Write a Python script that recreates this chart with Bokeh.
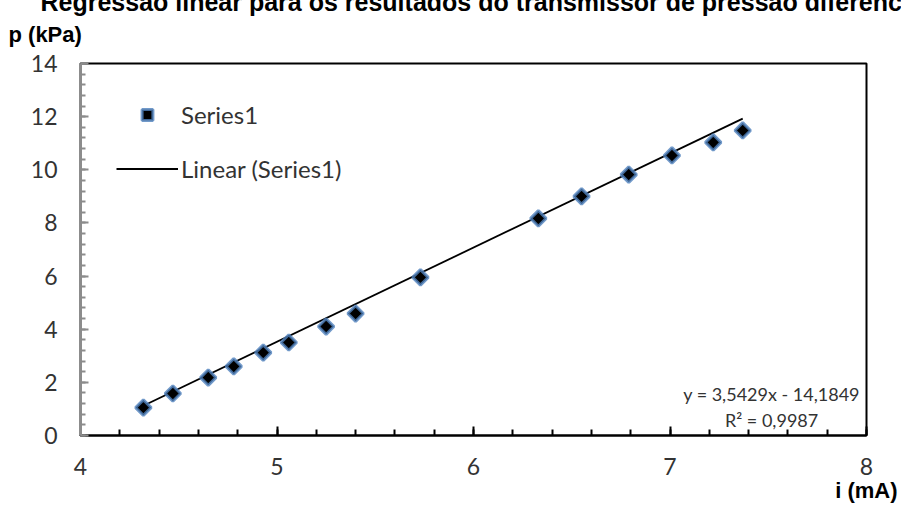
import numpy as np
from bokeh.plotting import figure
from bokeh.models import (Range1d, SingleIntervalTicker, Label, Legend, LegendItem,
                          ColumnDataSource, Title)
from bokeh.embed import file_html
from bokeh.resources import INLINE

# ---- data ----
current_ma = [4.32, 4.47, 4.65, 4.78, 4.93, 5.06, 5.25, 5.40, 5.73,
              6.33, 6.55, 6.79, 7.01, 7.22, 7.37]
pressure_kpa = [1.05, 1.58, 2.18, 2.60, 3.12, 3.50, 4.10, 4.59, 5.95,
                8.17, 9.00, 9.82, 10.54, 11.03, 11.48]
slope = 3.5429
intercept = -14.1849
r_squared = 0.9987
x_ticks = [4, 5, 6, 7, 8]
y_ticks = [0, 2, 4, 6, 8, 10, 12, 14]

title_text = "Regressão linear para os resultados do transmissor de pressão diferencial"
y_label = "p (kPa)"
x_label = "i (mA)"

TICK_FONT = "Lato"
BOLD_FONT = "Liberation Sans"
TXT = "#333333"

p = figure(width=901, height=514, output_backend="svg", toolbar_location=None,
           x_range=Range1d(x_ticks[0], x_ticks[-1]), y_range=Range1d(y_ticks[0], y_ticks[-1]),
           min_border_left=80, min_border_right=35, min_border_top=63, min_border_bottom=79)
p.background_fill_color = "white"
p.border_fill_color = "white"
p.outline_line_color = "black"
p.outline_line_width = 2
p.xgrid.visible = False
p.ygrid.visible = False

# x axis
xa = p.xaxis[0]
xa.ticker = SingleIntervalTicker(interval=1, num_minor_ticks=5)
xa.axis_line_color = "black"
xa.axis_line_width = 2
xa.major_tick_line_color = "black"
xa.major_tick_line_width = 2
xa.minor_tick_line_color = "black"
xa.minor_tick_line_width = 2
xa.major_tick_in = 9
xa.major_tick_out = 0
xa.minor_tick_in = 6
xa.minor_tick_out = 0
xa.major_label_standoff = 22
xa.major_label_text_font = TICK_FONT
xa.major_label_text_font_size = "23px"
xa.major_label_text_color = TXT

# y axis
ya = p.yaxis[0]
ya.ticker = SingleIntervalTicker(interval=2, num_minor_ticks=5)
ya.axis_line_color = "#8c8c8c"
ya.axis_line_width = 3
ya.major_tick_line_color = "#8c8c8c"
ya.major_tick_line_width = 2
ya.minor_tick_line_color = "#8c8c8c"
ya.minor_tick_line_width = 2
ya.major_tick_in = 8
ya.major_tick_out = 0
ya.minor_tick_in = 5
ya.minor_tick_out = 0
ya.major_label_standoff = 23
ya.major_label_text_font = TICK_FONT
ya.major_label_text_font_size = "23px"
ya.major_label_text_color = TXT

src = ColumnDataSource(dict(x=current_ma, y=pressure_kpa))
x_fit = [min(current_ma), max(current_ma)]
y_fit = [slope * v + intercept for v in x_fit]
fit_src = ColumnDataSource(dict(x=x_fit, y=y_fit))

r_line = p.line("x", "y", source=fit_src, line_color="black", line_width=1.8)
r_pts = p.scatter("x", "y", source=src, marker="square", angle=np.pi / 4, size=11,
                  fill_color="black", line_color="#4F81BD", line_width=3, line_alpha=0.8)

legend = Legend(items=[LegendItem(label="Series1", renderers=[r_pts]),
                       LegendItem(label="Linear (Series1)", renderers=[r_line])],
                location=(36, 252), glyph_width=62, glyph_height=27, label_height=24,
                spacing=25, padding=0, margin=0, label_standoff=3,
                border_line_color=None, background_fill_alpha=0,
                label_text_font=TICK_FONT, label_text_font_size="24px",
                label_text_color=TXT)
p.add_layout(legend)

def fmt(v):
    return f"{v:.4f}".replace(".", ",")

eq1 = f"y = {fmt(slope)}x - {fmt(abs(intercept))}"
eq2 = f"R² = {fmt(r_squared)}"

# equation labels
p.add_layout(Label(x=7.517, y=1.58, text=eq1, text_align="center", text_baseline="middle",
                   text_font=TICK_FONT, text_font_size="18px", text_color=TXT))
p.add_layout(Label(x=7.517, y=0.565, text=eq2, text_align="center", text_baseline="middle",
                   text_font=TICK_FONT, text_font_size="18px", text_color=TXT))

# axis titles and (top-clipped) chart title, placed in the side panels
t_ylab = Title(text=y_label, align="left", offset=-72, standoff=34, vertical_align="bottom",
               text_font=BOLD_FONT, text_font_style="bold", text_font_size="22px",
               text_color="black")
t_main = Title(text=title_text, align="left", offset=-40, standoff=-30, vertical_align="top",
               text_font=BOLD_FONT, text_font_style="bold", text_font_size="25px",
               text_color="black")
p.add_layout(t_ylab, "above")
p.add_layout(t_main, "above")
t_xlab = Title(text=x_label, align="right", offset=-31, standoff=0, vertical_align="top",
               text_font=BOLD_FONT, text_font_style="bold", text_font_size="22px",
               text_color="black")
p.add_layout(t_xlab, "below")

open("out.html", "w").write(file_html(p, INLINE))
